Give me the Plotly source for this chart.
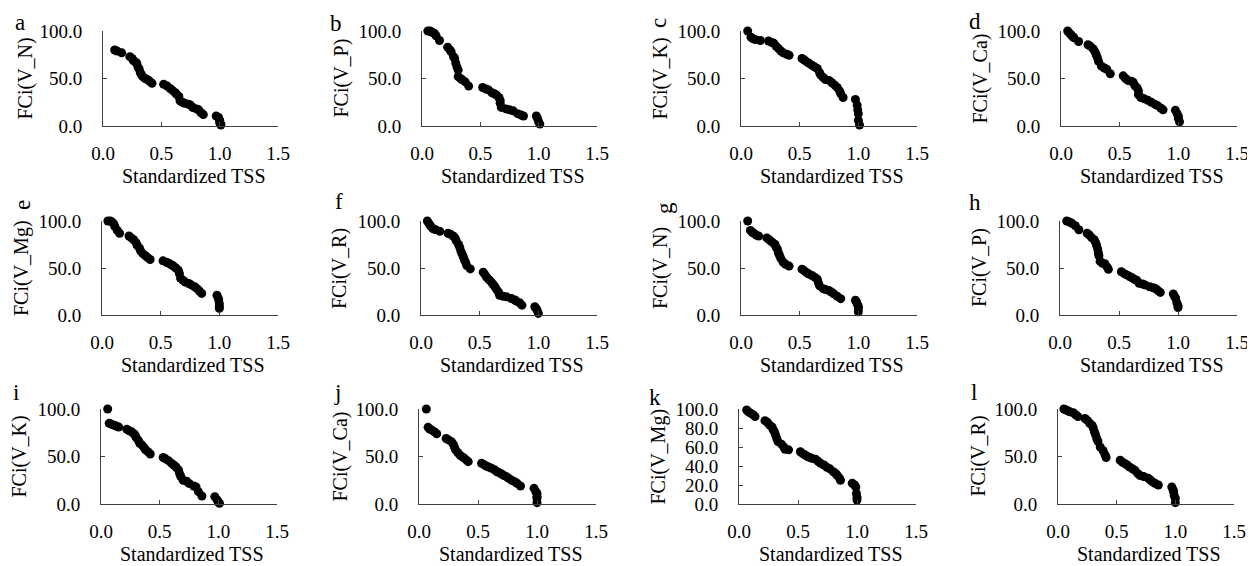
import plotly.graph_objects as go

W, H = 1255, 566
OFF = 8  # page body margin offset applied by the browser

# ---------------- data ----------------
x_a = [0.10, 0.12, 0.16, 0.23, 0.25, 0.26, 0.28, 0.29, 0.30, 0.31, 0.32, 0.33, 0.34, 0.36, 0.38, 0.40, 0.42,
       0.52, 0.55, 0.575, 0.60, 0.62, 0.63, 0.65, 0.66, 0.68, 0.70, 0.73, 0.75, 0.77, 0.80, 0.82, 0.84, 0.86,
       0.97, 0.99, 1.00, 1.00, 1.01, 1.01]
y_a = [80, 79, 77, 73, 71, 69, 67, 66, 62, 60, 56, 54, 52, 50, 49, 47, 45,
       44, 42, 39.5, 37, 35, 33.5, 31, 26.5, 25, 24, 23, 22, 19.5, 18, 17, 14, 12,
       10.5, 9, 6, 3.5, 2, 1]

x_b = [0.05, 0.07, 0.08, 0.10, 0.11, 0.12, 0.15, 0.22, 0.24, 0.25, 0.27, 0.28, 0.29, 0.30, 0.31, 0.31, 0.33, 0.34,
       0.37, 0.40, 0.52, 0.55, 0.57, 0.60, 0.62, 0.64, 0.66, 0.67, 0.67, 0.68, 0.72, 0.75, 0.78, 0.82, 0.85, 0.87,
       0.98, 0.99, 1.00, 1.01]
y_b = [100, 100, 99, 98, 97, 95, 90, 83, 80, 78, 73, 71, 66, 62, 59, 52, 50, 49,
       46.5, 42, 40.5, 39, 38, 35, 34, 32.5, 30, 27, 24, 19.6, 18, 17, 16, 13, 11.5, 10.5,
       10.5, 8, 4.5, 2]

x_c = [0.057, 0.085, 0.10, 0.12, 0.165, 0.235, 0.26, 0.28, 0.30, 0.32, 0.34, 0.36, 0.39, 0.41,
       0.52, 0.54, 0.56, 0.58, 0.605, 0.63, 0.65, 0.67, 0.68, 0.70, 0.72, 0.75, 0.775, 0.80, 0.82, 0.84, 0.85, 0.87,
       0.975, 0.99, 0.995, 1.00, 1.00, 1.01]
y_c = [100, 93.5, 92, 91, 90, 89.5, 88, 87, 84, 81.5, 79, 77, 75.5, 74.5,
       71, 69.5, 67.5, 66, 64, 62, 60.5, 56, 53.5, 51, 49, 48, 45.5, 43, 40.5, 37, 34, 30,
       28, 22, 17, 13, 6, 1]

x_d = [0.057, 0.07, 0.085, 0.10, 0.11, 0.15, 0.23, 0.25, 0.275, 0.29, 0.30, 0.31, 0.32, 0.345, 0.37, 0.39, 0.42,
       0.53, 0.55, 0.57, 0.60, 0.615, 0.63, 0.65, 0.66, 0.66, 0.68, 0.71, 0.74, 0.77, 0.80, 0.82, 0.85, 0.87,
       0.975, 0.99, 1.00, 1.00, 1.01]
y_d = [100, 98, 96, 94, 93, 89, 85.5, 84, 81, 78, 75, 72, 68, 63, 61, 59.7, 55,
       52.8, 50, 48, 47, 46, 42.4, 40, 37, 33, 30, 28.6, 27, 25, 23, 21.7, 19, 17,
       16.5, 13, 10, 8, 4.5]

x_e = [0.05, 0.07, 0.085, 0.10, 0.11, 0.13, 0.15, 0.23, 0.25, 0.27, 0.29, 0.30, 0.32, 0.33, 0.35, 0.37, 0.39, 0.41,
       0.52, 0.55, 0.57, 0.59, 0.61, 0.63, 0.65, 0.66, 0.67, 0.69, 0.71, 0.74, 0.76, 0.79, 0.81, 0.83, 0.85,
       0.98, 0.99, 0.995, 1.00, 1.00, 1.00]
y_e = [100, 100, 99, 97, 94, 90, 87, 84, 82, 80, 77, 74, 71, 68, 65, 63, 61, 59,
       57.6, 56, 55, 53.5, 52, 50, 47.7, 44, 39, 37, 35, 33.5, 32, 30, 28, 25.5, 23,
       21, 18, 16, 12, 9, 7]

x_f = [0.054, 0.07, 0.08, 0.10, 0.12, 0.16, 0.23, 0.25, 0.275, 0.29, 0.30, 0.32, 0.33, 0.34, 0.35, 0.36, 0.37, 0.38,
       0.39, 0.42, 0.53, 0.545, 0.56, 0.58, 0.60, 0.615, 0.63, 0.645, 0.66, 0.67, 0.70, 0.73, 0.77, 0.80, 0.81,
       0.84, 0.86, 0.97, 0.98, 0.99, 1.00]
y_f = [100, 97, 95, 92, 91, 89, 87, 86, 84, 82, 79, 75, 72, 68, 65, 62, 58.6, 56,
       52.6, 49, 45.6, 43, 40, 37.5, 35, 32.5, 30, 27, 24.6, 21, 20, 19.3, 17.5, 16, 15,
       13, 10.5, 8.8, 7, 5, 1.7]

x_g = [0.057, 0.08, 0.095, 0.11, 0.13, 0.15, 0.22, 0.24, 0.26, 0.28, 0.29, 0.30, 0.31, 0.32, 0.33, 0.34, 0.36, 0.38, 0.41,
       0.52, 0.54, 0.56, 0.58, 0.605, 0.63, 0.65, 0.66, 0.67, 0.70, 0.72, 0.75, 0.77, 0.79, 0.82, 0.85,
       0.975, 0.985, 0.99, 1.00, 1.00, 1.00]
y_g = [100, 90, 88, 87, 85, 84, 82, 80, 78, 76, 75, 72, 70, 66, 63, 60, 56, 54, 52,
       48.8, 47, 45, 43.5, 42, 40, 38, 34, 31, 28, 27, 26, 24.5, 22.6, 20, 17.4,
       15.7, 14, 12, 9, 7, 3.5]

x_h = [0.057, 0.08, 0.10, 0.13, 0.16, 0.23, 0.25, 0.27, 0.29, 0.30, 0.31, 0.32, 0.325, 0.33, 0.34, 0.36, 0.38, 0.40, 0.41,
       0.52, 0.545, 0.57, 0.59, 0.61, 0.63, 0.65, 0.67, 0.70, 0.72, 0.76, 0.79, 0.81, 0.83, 0.85,
       0.96, 0.97, 0.98, 0.99, 1.00, 1.00]
y_h = [100, 99, 97.6, 95, 90.7, 87, 85, 82, 80, 77.6, 74, 70, 66, 63, 57, 55, 54.5, 51, 48.6,
       46, 44, 42.4, 41, 39.6, 38, 37, 33.8, 33, 32, 30, 29, 28, 26, 24,
       22.4, 20, 18, 13, 10, 8]

x_i = [0.057, 0.07, 0.09, 0.11, 0.13, 0.15, 0.22, 0.24, 0.26, 0.28, 0.29, 0.30, 0.32, 0.33, 0.35, 0.37, 0.38, 0.40, 0.42,
       0.53, 0.55, 0.575, 0.60, 0.62, 0.64, 0.66, 0.67, 0.68, 0.70, 0.73, 0.75, 0.79, 0.81, 0.83, 0.86,
       0.97, 0.99, 1.00, 1.01]
y_i = [100, 85, 84, 83, 82, 81, 78.6, 77, 76, 74, 72.6, 70, 66.7, 64, 62, 59, 57, 55, 52.6,
       49, 47.5, 45.6, 43, 41, 39, 35.8, 32, 29, 25, 24, 21.7, 19, 18, 13, 8.4,
       7.7, 4.2, 2, 0.7]

x_j = [0.062, 0.077, 0.09, 0.105, 0.13, 0.15, 0.23, 0.25, 0.275, 0.29, 0.30, 0.31, 0.33, 0.35, 0.375, 0.40, 0.417,
       0.53, 0.55, 0.57, 0.59, 0.615, 0.64, 0.66, 0.68, 0.70, 0.72, 0.74, 0.76, 0.785, 0.81, 0.83, 0.86,
       0.975, 0.99, 1.00, 1.00, 1.00, 1.00]
y_j = [100, 80.7, 79, 78, 76, 74, 69, 67.5, 65.6, 63, 60, 57, 54, 51, 49, 46.5, 44.6,
       42.8, 41.5, 40, 39, 37.5, 36, 34, 33, 31.6, 30, 28.8, 27, 25, 23.5, 21.8, 19,
       16.5, 13, 11, 8, 6, 1.4]

x_k = [0.065, 0.08, 0.10, 0.12, 0.136, 0.22, 0.24, 0.26, 0.28, 0.29, 0.30, 0.31, 0.32, 0.33, 0.36, 0.38, 0.39, 0.42,
       0.52, 0.54, 0.56, 0.58, 0.60, 0.62, 0.65, 0.67, 0.69, 0.72, 0.745, 0.77, 0.80, 0.82, 0.83, 0.85, 0.86,
       0.96, 0.98, 0.99, 0.995, 1.00, 1.00]
y_k = [99, 97, 95.4, 94, 92, 87.7, 86, 83, 81, 78, 76, 72.6, 69, 65.6, 63, 60, 57.5, 57,
       55, 53, 51.6, 50, 49, 48, 47, 45, 43, 41, 38.6, 37, 34, 32, 30.5, 27.5, 25,
       21.8, 20, 18, 11, 7, 4.2]

x_l = [0.05, 0.07, 0.085, 0.10, 0.13, 0.15, 0.17, 0.23, 0.25, 0.27, 0.29, 0.30, 0.31, 0.32, 0.33, 0.34, 0.36, 0.385,
       0.40, 0.41, 0.53, 0.55, 0.57, 0.59, 0.61, 0.635, 0.655, 0.68, 0.70, 0.73, 0.77, 0.79, 0.81, 0.83, 0.855,
       0.97, 0.98, 0.985, 0.99, 1.00, 1.00]
y_l = [100, 99, 98, 97, 96, 94, 92, 90, 88, 85, 83, 80, 76, 73, 69, 66, 60, 56,
       52, 49, 46, 44, 42.5, 41, 39, 37, 35.5, 32, 30, 29, 27, 25, 23, 21.5, 20,
       18, 15, 13, 9, 6, 1.4]

panel_letters = ["a", "b", "c", "d", "e", "f", "g", "h", "i", "j", "k", "l"]
y_titles = ["FCi(V_N)", "FCi(V_P)", "FCi(V_K)", "FCi(V_Ca)",
            "FCi(V_Mg)", "FCi(V_R)", "FCi(V_N)", "FCi(V_P)",
            "FCi(V_K)", "FCi(V_Ca)", "FCi(V_Mg)", "FCi(V_R)"]
x_title = "Standardized TSS"
x_ticks = [0.0, 0.5, 1.0, 1.5]

xs = [x_a, x_b, x_c, x_d, x_e, x_f, x_g, x_h, x_i, x_j, x_k, x_l]
ys = [y_a, y_b, y_c, y_d, y_e, y_f, y_g, y_h, y_i, y_j, y_k, y_l]

# ---------------- layout geometry (screen pixels) ----------------
col_px = [
    [(103, 278), (422, 597), (741, 917), (1061, 1237)],
    [(102, 278), (421, 597), (741, 917), (1060, 1237)],
    [(101, 277), (419, 596), (739, 916), (1058, 1234)],
]
row_px = [(31, 126), (221, 315), (409, 504)]
ytitle_cx = [25, 341, 660, 980, 22, 340, 661, 980, 19, 340, 658, 978]
letter_pos = [(20, 23, 0), (336, 24, 0), (659, 23, -90), (975, 22, 0),
              (22, 205, -90), (339, 201, 0), (664, 208, -90), (975, 202, 0),
              (16, 392, 0), (337, 393, 0), (655, 397, 0), (974, 393, 0)]


def px_x(p):
    return (p - OFF) / W


def px_y(p):
    return 1 - (p - OFF) / H


FONT = "Times New Roman"
AX = "#404040"

fig = go.Figure()
annotations = []
layout_axes = {}

for k in range(12):
    r, c = divmod(k, 4)
    x0, x1 = col_px[r][c]
    yt, yb = row_px[r]
    xn = "" if k == 0 else str(k + 1)
    fig.add_trace(go.Scatter(
        x=xs[k], y=ys[k], mode="markers",
        marker=dict(color="black", size=9, line=dict(width=0)),
        xaxis="x" + xn, yaxis="y" + xn, cliponaxis=False, showlegend=False,
    ))
    layout_axes["xaxis" + xn] = dict(
        domain=[px_x(x0), px_x(x1)], anchor="y" + xn, range=[0, 1.5],
        tickvals=x_ticks, tickformat=".1f", ticks="inside", ticklen=4,
        tickcolor=AX, showline=True, linecolor=AX, linewidth=1,
        showgrid=False, zeroline=False, ticklabelstandoff=10, automargin=False,
        tickfont=dict(family=FONT, size=19, color="black"),
    )
    ytv = [0, 20, 40, 60, 80, 100] if k == 10 else [0, 50, 100]
    layout_axes["yaxis" + xn] = dict(
        domain=[px_y(yb), px_y(yt)], anchor="x" + xn, range=[0, 100],
        tickvals=ytv, tickformat=".1f", ticks="inside", ticklen=4,
        tickcolor=AX, showline=True, linecolor=AX, linewidth=1,
        showgrid=False, zeroline=False, ticklabelstandoff=16, automargin=False,
        tickfont=dict(family=FONT, size=19, color="black"),
    )
    annotations.append(dict(
        text=x_title, x=px_x((x0 + x1) / 2 + 3), y=px_y(yb + 50),
        xref="paper", yref="paper", xanchor="center", yanchor="middle",
        showarrow=False, font=dict(family=FONT, size=20, color="black"),
    ))
    annotations.append(dict(
        text=y_titles[k], x=px_x(ytitle_cx[k]), y=px_y((yt + yb) / 2),
        xref="paper", yref="paper", xanchor="center", yanchor="middle",
        textangle=-90, showarrow=False,
        font=dict(family=FONT, size=20, color="black"),
    ))
    lx, ly, rot = letter_pos[k]
    annotations.append(dict(
        text=panel_letters[k], x=px_x(lx), y=px_y(ly),
        xref="paper", yref="paper", xanchor="center", yanchor="middle",
        textangle=rot, showarrow=False,
        font=dict(family=FONT, size=23, color="black"),
    ))

fig.update_layout(
    width=W, height=H, margin=dict(l=0, r=0, t=0, b=0),
    paper_bgcolor="white", plot_bgcolor="white",
    font=dict(family=FONT),
    annotations=annotations, **layout_axes,
)

fig.write_html("out.html")
